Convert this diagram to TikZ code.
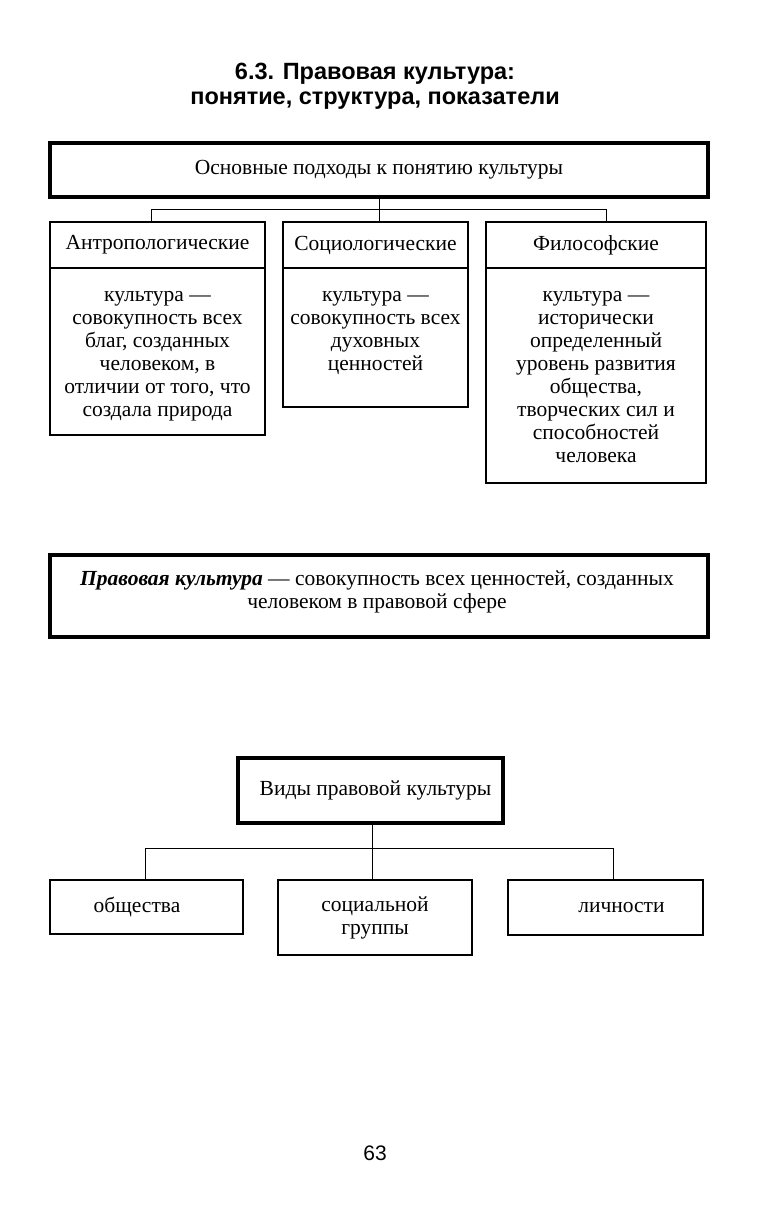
\documentclass[tikz,border=0pt]{standalone}
\usepackage{fontspec}
\setmainfont{Liberation Serif}
\newfontfamily\titlefont{Liberation Sans}
\begin{document}
\begin{tikzpicture}[x=1pt,y=-1pt,
  txt/.style={font=\fontsize{21.5}{23}\selectfont, align=center, inner sep=0pt},
  thinbox/.style={draw, line width=1.1pt, inner sep=0pt, align=center, font=\fontsize{21.5}{23}\selectfont},
  thickbox/.style={draw, line width=3.6pt, inner sep=0pt, align=center, font=\fontsize{21.5}{23}\selectfont},
  link/.style={line width=1pt}]
\useasboundingbox (0,0) rectangle (784,1229);

% title
\node[font=\titlefont\bfseries\fontsize{23.5}{25}\selectfont, align=center] (title) at (375,86)
  {6.3. Правовая культура:\\понятие, структура, показатели};

% top box
\node[thickbox, minimum width=658, minimum height=54] (top) at (379,170) {Основные подходы к понятию культуры};

% three approach boxes
\node[thinbox, minimum width=215, minimum height=46] (antroH) at (157.5,245) {Антропологические};
\node[thinbox, minimum width=215, minimum height=167] (antroB) at (157.5,351.5) {};
\node[txt, anchor=north] (antroT) at (157.5,291)
  {культура —\\совокупность всех\\благ, созданных\\человеком, в\\отличии от того, что\\создала природа};
\node[thinbox, minimum width=185, minimum height=46] (socioH) at (375.5,245) {Социологические};
\node[thinbox, minimum width=185, minimum height=139] (socioB) at (375.5,337.5) {};
\node[txt, anchor=north] (socioT) at (375.5,291) {культура —\\совокупность всех\\духовных\\ценностей};
\node[thinbox, minimum width=220, minimum height=46] (philoH) at (596,245) {Философские};
\node[thinbox, minimum width=220, minimum height=215] (philoB) at (596,375.5) {};
\node[txt, anchor=north] (philoT) at (596,291)
  {культура —\\исторически\\определенный\\уровень развития\\общества,\\творческих сил и\\способностей\\человека};

\coordinate (j1) at ([yshift=-11]top.south);
\draw[link] (top.south) -- (j1);
\draw[link] ([xshift=-6.5]antroH.north) -- ([xshift=-6.5]antroH.north |- j1) -- ([xshift=10]philoH.north |- j1) -- ([xshift=10]philoH.north);
\draw[link] (j1) -- (j1 |- socioH.north);

% legal culture definition
\node[thickbox, minimum width=658, minimum height=82] (def) at (379,596) {};
\node[txt] (defT) at (377,592)
  {\textbf{\itshape Правовая культура} — совокупность всех ценностей, созданных\\человеком в правовой сфере};

% kinds
\node[thickbox, minimum width=265, minimum height=65] (vidy) at (370.5,790.5) {\hspace*{10pt}Виды правовой культуры};
\node[thinbox, minimum width=193, minimum height=54] (obsh) at (146.5,907) {\hspace*{-19pt}общества};
\node[thinbox, minimum width=194, minimum height=75] (socg) at (375,917.5) {социальной\\группы};
\node[thinbox, minimum width=195, minimum height=55] (lich) at (605.5,907.5) {\hspace*{32pt}личности};

\coordinate (j2) at ([xshift=1.5,yshift=-24]vidy.south);
\draw[link] ([xshift=1.5]vidy.south) -- (j2);
\draw[link] ([xshift=-1.5]obsh.north) -- ([xshift=-1.5]obsh.north |- j2) -- ([xshift=7.5]lich.north |- j2) -- ([xshift=7.5]lich.north);
\draw[link] (j2) -- (j2 |- socg.north);

% page number
\node[font=\titlefont\fontsize{21}{23}\selectfont] (page) at (375,1153) {63};
\end{tikzpicture}
\end{document}
